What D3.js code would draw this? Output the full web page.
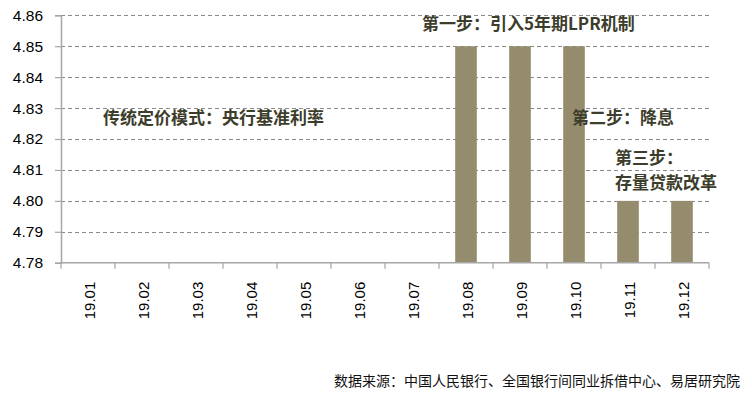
<!DOCTYPE html>
<html><head><meta charset="utf-8">
<script src="https://cdn.jsdelivr.net/npm/d3@7"></script>
<style>body{margin:0;background:#fff}svg{display:block}</style>
</head><body>
<svg id="c" width="752" height="399"></svg>
<script>
const categories = ["19.01","19.02","19.03","19.04","19.05","19.06","19.07","19.08","19.09","19.10","19.11","19.12"];
const lpr5y = [null,null,null,null,null,null,null,4.85,4.85,4.85,4.80,4.80];
const yTicks = [4.78,4.79,4.80,4.81,4.82,4.83,4.84,4.85,4.86];
const notes = [
  {lines:["传统定价模式：央行基准利率"], cat:"19.01", val:4.8247},
  {lines:["第一步：引入5年期LPR机制"], cat:"19.07", val:4.8551},
  {lines:["第二步：降息"], cat:"19.10", val:4.8247},
  {lines:["第三步：","存量贷款改革"], cat:"19.11", val:4.8118}
];
const noteShift = [42, 37, 25, 14];
const source = "数据来源：中国人民银行、全国银行间同业拆借中心、易居研究院";

const svg = d3.select("#c");
const m = {l:61, r:709, t:15.3, b:262.7};
const x = d3.scaleBand().domain(categories).range([m.l, m.r]).paddingInner(0.6).paddingOuter(0.3);
const xb = d3.scaleBand().domain(categories).range([m.l, m.r]);
const y = d3.scaleLinear().domain([4.78, 4.86]).range([m.b, m.t]);

// gridlines
svg.append("g").selectAll("line").data(yTicks.slice(1)).join("line")
  .attr("x1", m.l).attr("x2", m.r)
  .attr("y1", d => Math.round(y(d)) + 0.5).attr("y2", d => Math.round(y(d)) + 0.5)
  .attr("stroke", "#8a8a8a").attr("stroke-width", 1).attr("stroke-dasharray", "4,3");

// bars
svg.append("g").selectAll("rect").data(categories.map((c,i)=>({c, v:lpr5y[i]})).filter(d=>d.v!=null)).join("rect")
  .attr("x", d => x(d.c)).attr("width", x.bandwidth())
  .attr("y", d => y(d.v)).attr("height", d => y(4.78) - y(d.v))
  .attr("fill", "#958c6e");

// y axis
const ya = d3.axisLeft(y).tickValues(yTicks).tickFormat(d3.format(".2f")).tickSize(6).tickPadding(12);
const gy = svg.append("g").attr("transform", `translate(${m.l},0)`).call(ya);
gy.select(".domain").attr("stroke", "#a6a6a6").attr("stroke-width", 1.5);
gy.selectAll(".tick line").attr("stroke", "#a6a6a6").attr("stroke-width", 1.2);
gy.selectAll("text").attr("font-family", "'Liberation Sans', Arial, sans-serif").attr("font-size", 15.5).attr("fill", "#000");

// x axis
const gx = svg.append("g").attr("transform", `translate(0,${m.b})`);
gx.append("line").attr("x1", m.l).attr("x2", m.r).attr("stroke", "#a6a6a6").attr("stroke-width", 1.5);
gx.selectAll("line.tk").data(categories.concat(["end"])).join("line").attr("class","tk")
  .attr("x1", (d,i) => m.l + i*xb.step()).attr("x2", (d,i) => m.l + i*xb.step())
  .attr("y1", 0).attr("y2", 6).attr("stroke", "#a6a6a6").attr("stroke-width", 1.2);
gx.selectAll("text").data(categories).join("text")
  .attr("transform", d => `translate(${xb(d) + xb.bandwidth()/2 + 2},19) rotate(-90)`)
  .attr("text-anchor", "end").attr("dy", "0.35em")
  .attr("font-family", "'Liberation Sans', Arial, sans-serif").attr("font-size", 15).attr("fill", "#000")
  .text(d => d);

// annotations
const ng = svg.append("g").attr("font-family", "'Noto Sans CJK SC', sans-serif").attr("font-size", 17)
  .attr("font-weight", 700).attr("fill", "#3d3d2c");
notes.forEach((n, k) => {
  n.lines.forEach((l, i) => ng.append("text")
    .attr("x", xb(n.cat) + noteShift[k]).attr("y", y(n.val) + i * 24.5).text(l));
});

// source
svg.append("text").attr("x", 740).attr("y", 386).attr("text-anchor", "end")
  .attr("font-family", "'Noto Sans CJK SC', sans-serif").attr("font-size", 14).attr("fill", "#111")
  .text(source);
</script>
</body></html>
